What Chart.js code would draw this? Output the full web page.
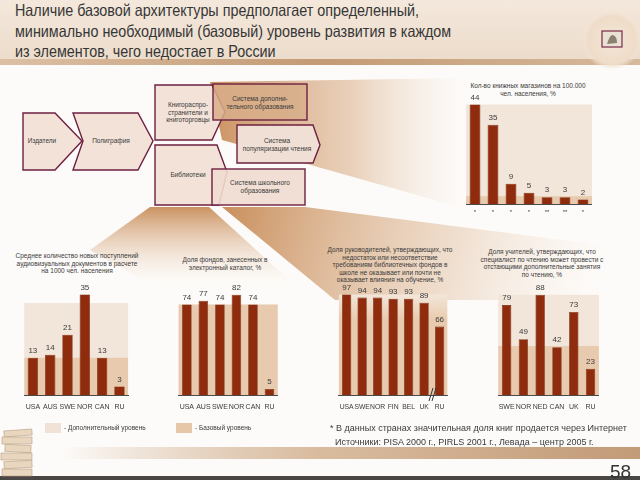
<!DOCTYPE html>
<html>
<head>
<meta charset="utf-8">
<script src="https://cdn.jsdelivr.net/npm/chart.js@4.4.1/dist/chart.umd.min.js"></script>
<style>
  body { margin: 0; width: 640px; height: 480px; overflow: hidden; background: #fdfbf9; font-family: "Liberation Sans", Arial, sans-serif; position: relative; }
  svg, canvas { position: absolute; }
  .txt { position: absolute; color: #3a3a3a; white-space: nowrap; }
  .small { font-size: 6.5px; line-height: 7.5px; text-align: center; transform: translateX(-50%); }
  .swatch { position: absolute; width: 16px; height: 10px; }
</style>
</head>
<body>
<svg id="deco" width="640" height="480" viewBox="0 0 640 480">
  <defs>
    <linearGradient id="head" x1="0" y1="0" x2="0" y2="1">
      <stop offset="0" stop-color="#f4e8dc"/><stop offset="1" stop-color="#ecdccb"/>
    </linearGradient>
    <linearGradient id="headLine" x1="0" y1="0" x2="1" y2="0">
      <stop offset="0" stop-color="#dcc0a4"/><stop offset="0.5" stop-color="#c49a74"/><stop offset="1" stop-color="#d6b99b"/>
    </linearGradient>
    <linearGradient id="footLine" x1="0" y1="0" x2="1" y2="0">
      <stop offset="0" stop-color="#c49a74" stop-opacity="0"/><stop offset="0.45" stop-color="#d2b08e"/><stop offset="1" stop-color="#b88a62"/>
    </linearGradient>
    <radialGradient id="medal" cx="0.5" cy="0.5" r="0.5">
      <stop offset="0" stop-color="#f3e6d8"/><stop offset="0.8" stop-color="#efdcc8"/><stop offset="1" stop-color="#f4e8dc" stop-opacity="0"/>
    </radialGradient>
    <linearGradient id="w1" x1="210" y1="0" x2="470" y2="0" gradientUnits="userSpaceOnUse">
      <stop offset="0" stop-color="#c88c58" stop-opacity="0.95"/><stop offset="0.55" stop-color="#dcb592" stop-opacity="0.6"/><stop offset="1" stop-color="#f0dfcf" stop-opacity="0"/>
    </linearGradient>
    <linearGradient id="w2" x1="0" y1="207" x2="0" y2="285" gradientUnits="userSpaceOnUse">
      <stop offset="0" stop-color="#c88c58" stop-opacity="0.95"/><stop offset="1" stop-color="#f0dfcf" stop-opacity="0"/>
    </linearGradient>
    <linearGradient id="w3" x1="230" y1="207" x2="600" y2="300" gradientUnits="userSpaceOnUse">
      <stop offset="0" stop-color="#c88c58" stop-opacity="0.95"/><stop offset="0.6" stop-color="#e2c2a4" stop-opacity="0.5"/><stop offset="1" stop-color="#f0dfcf" stop-opacity="0"/>
    </linearGradient>
  </defs>
  <!-- header -->
  <rect x="0" y="0" width="640" height="60" fill="url(#head)"/>
  <rect x="0" y="59" width="640" height="6" fill="url(#headLine)"/>
  <circle cx="612" cy="40" r="30" fill="url(#medal)"/>
  <rect x="602" y="31" width="20" height="16" fill="#e9e2d4" stroke="#7a2a48" stroke-width="1.2"/>
  <path d="M607 44 q3 -10 6 -9 q4 1 4 8 z" fill="#8c8070"/>
  <!-- footer -->
  <rect x="60" y="447" width="580" height="12" fill="url(#footLine)" opacity="0.85"/>
  <rect x="0" y="476" width="640" height="4" fill="#4a4644"/>
  <g fill="#e8d6bf" stroke="#b79e80" stroke-width="0.6">
    <rect x="4" y="430" width="28" height="6" transform="rotate(-4 18 433)"/>
    <rect x="2" y="437" width="30" height="7"/>
    <rect x="5" y="445" width="26" height="7" transform="rotate(3 18 448)"/>
    <rect x="1" y="453" width="31" height="7"/>
    <rect x="4" y="461" width="28" height="7" transform="rotate(-3 18 464)"/>
    <rect x="2" y="469" width="30" height="7"/>
  </g>
  <!-- fan wedges -->
  <polygon points="210,82 470,78 470,210 222,140" fill="url(#w1)"/>
  <polygon points="150,207 209,207 300,290 160,290 90,250" fill="url(#w2)"/>
  <polygon points="222,207 305,207 640,250 640,300 335,300" fill="url(#w3)"/>
  <!-- value chain diagram -->
  <g stroke="#6d2040" stroke-width="1.4" stroke-linejoin="miter">
    <polygon points="23,113 55,113 82,141 55,170 23,170" fill="#f2e2d8"/>
    <polygon points="73,113 138,113 153,141 138,170 73,170 83,141" fill="#f2e2d8"/>
    <polygon points="155,85 212,85 225,112 212,140 155,140" fill="#f2e2d8"/>
    <polygon points="155,145 217,145 227,172 219,205 155,205" fill="#f2e2d8"/>
    <rect x="213" y="84" width="94" height="36" fill="#d8ae8a" fill-opacity="0.85"/>
    <polygon points="237,125 313,125 320,145 313,163 237,163" fill="#f0dfd4"/>
    <rect x="212" y="169" width="93" height="36" fill="#efdcd0" fill-opacity="0.9"/>
  </g>
</svg>

<div class="txt" style="left:15px;top:0px;font-size:16.5px;line-height:20.5px;color:#363636;transform:scaleX(0.87);transform-origin:0 0">Наличие базовой архитектуры предполагает определенный,<br>минимально необходимый (базовый) уровень развития в каждом<br>из элементов, чего недостает в России</div>

<div class="txt small" style="left:42px;top:137px">Издатели</div>
<div class="txt small" style="left:111px;top:137px">Полиграфия</div>
<div class="txt small" style="left:188px;top:101px">Книгораспро-<br>странители и<br>книготорговцы</div>
<div class="txt small" style="left:188px;top:171px">Библиотеки</div>
<div class="txt small" style="left:260px;top:95px">Система дополни-<br>тельного образования</div>
<div class="txt small" style="left:277px;top:137px">Система<br>популяризации чтения</div>
<div class="txt small" style="left:260px;top:179px">Система школьного<br>образования</div>

<div class="txt small" style="left:528px;top:82px">Кол-во книжных магазинов на 100.000<br>чел. населения, %</div>
<div class="txt small" style="left:77px;top:252px">Среднее количество новых поступлений<br>аудиовизуальных документов в расчете<br>на 1000 чел. населения</div>
<div class="txt small" style="left:225px;top:256px">Доля фондов, занесенных в<br>электронный каталог, %</div>
<div class="txt small" style="left:390px;top:246px">Доля руководителей, утверждающих, что<br>недостаток или несоответствие<br>требованиям библиотечных фондов в<br>школе не оказывает или почти не<br>оказывает влияния на обучение, %</div>
<div class="txt small" style="left:542px;top:248px">Доля учителей, утверждающих, что<br>специалист по чтению может провести с<br>отстающими дополнительные занятия<br>по чтению, %</div>

<canvas id="shops" width="126" height="132" style="left:466px;top:88px"></canvas>
<canvas id="av" width="114" height="149" style="left:18px;top:266px"></canvas>
<canvas id="cat" width="110" height="149" style="left:172px;top:266px"></canvas>
<canvas id="heads" width="120" height="149" style="left:332px;top:266px"></canvas>
<canvas id="teach" width="112" height="149" style="left:491px;top:266px"></canvas>

<svg width="640" height="480" style="left:0;top:0;pointer-events:none">
  <g stroke="#333" stroke-width="1">
    <line x1="429" y1="401" x2="433" y2="388"/>
    <line x1="432" y1="401" x2="436" y2="388"/>
  </g>
</svg>

<div class="swatch" style="left:45px;top:423px;background:#f0e2d6"></div>
<div class="txt" style="left:64px;top:424px;font-size:6.5px">- Дополнительный уровень</div>
<div class="swatch" style="left:176px;top:423px;background:#e6c8a8"></div>
<div class="txt" style="left:195px;top:424px;font-size:6.5px">- Базовый уровень</div>

<div class="txt" style="left:330px;top:421px;font-size:9px;line-height:14px">* В данных странах значительная доля книг продается через Интернет<br>&nbsp;&nbsp;Источники: PISA 2000 г., PIRLS 2001 г., Левада – центр 2005 г.</div>
<div class="txt" style="left:610px;top:461px;font-size:19px;color:#333">58</div>

<script>
const shopLabels = ['*', '*', '*', '*', '**', '**', '*'];
const shopValues = [44, 35, 9, 5, 3, 3, 2];
const shopLevels = [3.5, 44];

const avLabels = ['USA', 'AUS', 'SWE', 'NOR', 'CAN', 'RU'];
const avValues = [13, 14, 21, 35, 13, 3];
const avLevels = [13, 32];

const catLabels = ['USA', 'AUS', 'SWE', 'NOR', 'CAN', 'RU'];
const catValues = [74, 77, 74, 82, 74, 5];
const catLevels = [74, null];

const headLabels = ['USA', 'SWE', 'NOR', 'FIN', 'BEL', 'UK', 'RU'];
const headValues = [97, 94, 94, 93, 93, 89, 66];
const headLevels = [97, null];

const teachLabels = ['SWE', 'NOR', 'NED', 'CAN', 'UK', 'RU'];
const teachValues = [79, 49, 88, 42, 73, 23];
const teachLevels = [43, 88];

Chart.defaults.font.family = '"Liberation Sans", Arial, sans-serif';
Chart.defaults.color = '#3a3a3a';
Chart.defaults.animation = false;

const BASE = '#e8cbae', EXTRA = '#f2e5da';

// shaded "base" / "additional" level bands behind the bars
const levelBands = {
  id: 'levelBands',
  beforeDraw(chart, args, o) {
    const { ctx, chartArea: a, scales: { y } } = chart;
    const [base, extra] = o.levels;
    ctx.save();
    if (extra != null) {
      ctx.fillStyle = EXTRA;
      ctx.fillRect(a.left, y.getPixelForValue(extra), a.width, y.getPixelForValue(base) - y.getPixelForValue(extra));
    }
    const top = y.getPixelForValue(base);
    if (o.fade) {
      const g = ctx.createLinearGradient(0, top, 0, a.bottom);
      g.addColorStop(0, '#f3e6da');
      g.addColorStop(0.25, BASE);
      g.addColorStop(1, BASE);
      ctx.fillStyle = g;
    } else {
      ctx.fillStyle = BASE;
    }
    ctx.fillRect(a.left, top, a.width, a.bottom - top);
    ctx.restore();
  }
};

const valueLabels = {
  id: 'valueLabels',
  afterDatasetsDraw(chart) {
    const { ctx } = chart;
    const ds = chart.data.datasets[0];
    ctx.save();
    ctx.font = '8px "Liberation Sans", Arial, sans-serif';
    ctx.fillStyle = '#3a3a3a';
    ctx.textAlign = 'center';
    ctx.textBaseline = 'bottom';
    chart.getDatasetMeta(0).data.forEach((bar, i) => {
      ctx.fillText(ds.data[i], bar.x, bar.y - 3);
    });
    ctx.restore();
  }
};

function bar(id, labels, values, levels, max, o = {}) {
  return new Chart(document.getElementById(id), {
    type: 'bar',
    data: { labels, datasets: [{ data: values, backgroundColor: '#8e2c0d', borderColor: '#6a1f06', borderWidth: 0.6, barPercentage: o.bar || 0.6, categoryPercentage: 1 }] },
    options: {
      responsive: false,
      layout: { padding: { top: o.padTop || 14 } },
      plugins: {
        legend: { display: false },
        tooltip: { enabled: false },
        levelBands: { levels, fade: !!o.fade }
      },
      scales: {
        x: {
          grid: { display: false, drawTicks: false },
          border: { color: '#4a4a4a', width: 1 },
          ticks: { font: { size: o.tick || 7 }, padding: o.tickPad || 8, autoSkip: false, maxRotation: 0 },
          afterFit: s => { s.height = o.axisH || 20; }
        },
        y: { display: false, min: 0, max }
      }
    },
    plugins: [levelBands, valueLabels]
  });
}

bar('shops', shopLabels, shopValues, shopLevels, 46, { padTop: 12, axisH: 16, tick: 6, tickPad: 5, bar: 0.6 });
bar('av', avLabels, avValues, avLevels, 40, { bar: 0.6 });
bar('cat', catLabels, catValues, catLevels, 94, { bar: 0.58 });
bar('heads', headLabels, headValues, headLevels, 111, { bar: 0.6, fade: true, tick: 6.8 });
bar('teach', teachLabels, teachValues, teachLevels, 101, { bar: 0.56 });
</script>
</body>
</html>
